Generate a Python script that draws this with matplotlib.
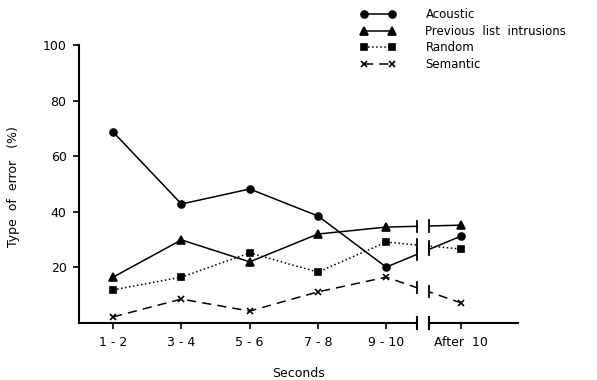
import numpy as np
from matplotlib import pyplot as plt
from matplotlib.lines import Line2D

categories = ['1 - 2', '3 - 4', '5 - 6', '7 - 8', '9 - 10', 'After  10']
acoustic = [68.7, 42.8, 48.2, 38.5, 20.1, 31.3]
previous = [16.5, 29.9, 22.0, 32.0, 34.5, 35.2]
random_err = [11.9, 16.5, 25.2, 18.3, 29.1, 26.6]
semantic = [2.2, 8.6, 4.3, 11.2, 16.5, 7.2]
yticks = [20, 40, 60, 80, 100]

# x layout: five regular steps then a broken axis before "After 10"
xpos = [0, 1, 2, 3, 4, 5.1]
brk_left, brk_right = 4.45, 4.63

plt.rcParams['font.family'] = 'DejaVu Sans'
fig = plt.figure(figsize=(5.97, 3.80), dpi=100)
ax = fig.add_axes([79 / 597, 1 - 323 / 380, (518 - 79) / 597, (323 - 45) / 380])

series = [
    (acoustic, 'o', '-', 5, 'Acoustic'),
    (previous, '^', '-', 6, 'Previous  list  intrusions'),
    (random_err, 's', ':', 5, 'Random'),
    (semantic, 'x', (0, (6, 4)), 4, 'Semantic'),
]

handles = []
for vals, mk, ls, ms, lab in series:
    ax.plot(xpos, vals, color='black', linestyle=ls, linewidth=1.1, zorder=2)
    ax.plot(xpos, vals, color='black', linestyle='none', marker=mk,
            markersize=ms, markeredgewidth=1.2, zorder=4)
    # break ticks on each line
    for bx in (brk_left, brk_right):
        by = np.interp(bx, xpos[4:], vals[4:])
        ax.plot([bx, bx], [by - 2.0, by + 2.0], color='black', linewidth=1.3, zorder=5)
    handles.append(Line2D([0], [0], color='black', linestyle=ls, linewidth=1.1,
                          marker=mk, markersize=ms, markeredgewidth=1.2))

# white-out the gap between the break marks
ax.axvspan(brk_left + 0.015, brk_right - 0.015, color='white', zorder=3)

ax.set_xlim(-0.5, 5.93)
ax.set_ylim(0, 100)
ax.set_xticks(xpos)
ax.set_xticklabels(categories, fontsize=9)
ax.set_yticks(yticks)
ax.set_yticklabels([str(v) for v in yticks], fontsize=9)
ax.tick_params(axis='both', direction='out', length=4, width=1.2, pad=5)

for s in ('top', 'right', 'bottom'):
    ax.spines[s].set_visible(False)
ax.spines['left'].set_linewidth(1.5)

# broken bottom axis
ax.plot([-0.5, brk_left], [0, 0], color='black', linewidth=1.5, clip_on=False, zorder=6)
ax.plot([brk_right, 5.93], [0, 0], color='black', linewidth=1.5, clip_on=False, zorder=6)
for bx in (brk_left, brk_right):
    ax.plot([bx, bx], [-2.2, 2.2], color='black', linewidth=1.5, clip_on=False, zorder=6)

ax.set_xlabel('Seconds', fontsize=9, labelpad=13)
fig.text(0.022, 1 - 187 / 380, 'Type  of  error   (%)', rotation=90,
         ha='center', va='center', fontsize=9)

leg = fig.legend(handles=handles, labels=[s[4] for s in series],
                 loc='upper left', bbox_to_anchor=(0.59, 1.0), frameon=False,
                 numpoints=2, handlelength=3.0, fontsize=8.5, labelspacing=0.3,
                 handletextpad=2.5, borderaxespad=0.3)

fig.savefig('out.png', dpi=100)
